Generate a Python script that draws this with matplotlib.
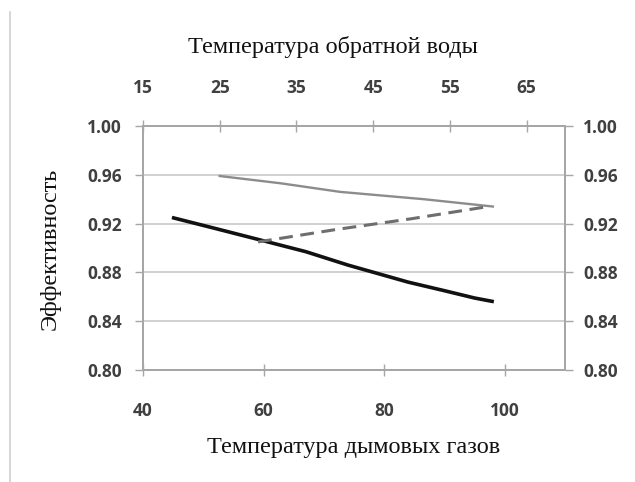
import matplotlib
matplotlib.use("Agg")
import matplotlib.pyplot as plt
from matplotlib.lines import Line2D

# Data
flue_temp = [44.8, 52, 60.7, 67, 74, 84, 90, 95, 98.2]
eff_flue = [0.925, 0.916, 0.905, 0.897, 0.886, 0.872, 0.865, 0.859, 0.856]

return_temp_solid = [25, 33, 40.7, 51.6, 60.6]
eff_return_solid = [0.959, 0.953, 0.946, 0.940, 0.934]

return_temp_dashed = [30, 40, 50, 60]
eff_return_dashed = [0.905, 0.915, 0.924, 0.934]

bottom_ticks = [40, 60, 80, 100]
top_ticks = [15, 25, 35, 45, 55, 65]
y_ticks = [0.80, 0.84, 0.88, 0.92, 0.96, 1.00]

plt.rcParams['font.family'] = ['Open Sans', 'DejaVu Sans']

fig = plt.figure(figsize=(6.35, 4.82), dpi=100)
ax = fig.add_axes([143/635, 1-370/482, (565-143)/635, (370-126)/482])

spine_c = '#a6a6a6'
tick_c = '#404040'
lsize = 12.5

ax.set_xlim(40, 110)
ax.set_ylim(0.80, 1.00)
ax.set_xticks(bottom_ticks)
ax.set_yticks(y_ticks)
ax.set_yticklabels([f"{v:.2f}" for v in y_ticks])
ax.yaxis.grid(True, color='#c8c8c8', lw=1.2)
ax.set_axisbelow(True)
for s in ax.spines.values():
    s.set_color(spine_c)
    s.set_linewidth(1.2)
ax.tick_params(axis='x', direction='inout', length=8, color=spine_c, width=1,
               labelsize=lsize, labelcolor=tick_c, pad=19)
ax.tick_params(axis='y', direction='out', length=6, color=spine_c, width=1,
               labelsize=lsize, labelcolor=tick_c, pad=9)
for lab in ax.get_xticklabels() + ax.get_yticklabels():
    lab.set_fontweight('bold')

ax.plot(flue_temp, eff_flue, color='#111111', lw=2.6, solid_capstyle='butt', zorder=3)

ax3 = ax.twinx()
ax3.set_ylim(0.80, 1.00)
ax3.set_yticks(y_ticks)
ax3.set_yticklabels([f"{v:.2f}" for v in y_ticks])
ax3.tick_params(axis='y', direction='out', length=6, color=spine_c, width=1,
                labelsize=lsize, labelcolor=tick_c, pad=7)
for lab in ax3.get_yticklabels():
    lab.set_fontweight('bold')
for s in ax3.spines.values():
    s.set_color(spine_c)
    s.set_linewidth(1.2)

ax2 = ax.twiny()
ax2.set_xlim(15, 70)
ax2.set_xticks(top_ticks)
for s in ax2.spines.values():
    s.set_color(spine_c)
    s.set_linewidth(1.2)
ax2.tick_params(axis='x', direction='inout', length=8, color=spine_c, width=1,
                labelsize=lsize, labelcolor=tick_c, pad=17)
for lab in ax2.get_xticklabels():
    lab.set_fontweight('bold')
ax2.plot(return_temp_solid, eff_return_solid, color='#8c8c8c', lw=1.7, zorder=3)
ax2.plot(return_temp_dashed, eff_return_dashed, color='#6e6e6e', lw=2.2,
         dashes=(4.5, 2.5), zorder=3)

serif = ['Liberation Serif', 'DejaVu Serif']
fig.text(333/635, 1-47/482, 'Температура обратной воды', family=serif,
         fontsize=17.5, ha='center', va='center', color='#111111')
fig.text(354/635, 1-448/482, 'Температура дымовых газов', family=serif,
         fontsize=17.5, ha='center', va='center', color='#111111')
fig.text(50/635, 1-249/482, 'Эффективность', family=serif,
         fontsize=17.5, ha='center', va='center', rotation=90, color='#111111')

fig.add_artist(Line2D([10/635, 10/635], [0, 1-12/482], transform=fig.transFigure,
                      color='#d0d0d0', lw=1.2))

fig.savefig('out.png', dpi=100)
